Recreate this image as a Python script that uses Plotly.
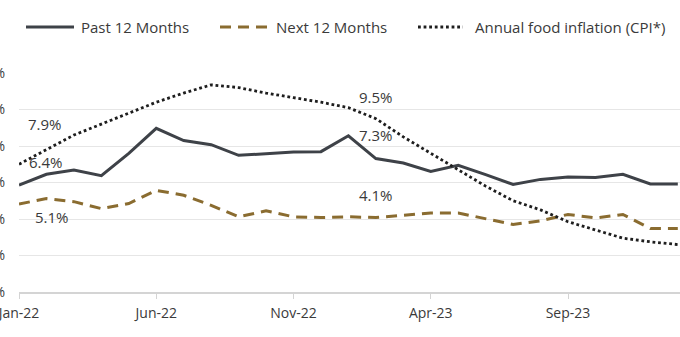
import plotly.graph_objects as go

# ---- data ----
months = ["Jan-22","Feb-22","Mar-22","Apr-22","May-22","Jun-22","Jul-22","Aug-22","Sep-22","Oct-22","Nov-22","Dec-22",
          "Jan-23","Feb-23","Mar-23","Apr-23","May-23","Jun-23","Jul-23","Aug-23","Sep-23","Oct-23","Nov-23","Dec-23","Jan-24"]
past_12 = [5.86, 6.45, 6.68, 6.37, 7.6, 8.97, 8.3, 8.07, 7.49, 7.56, 7.67, 7.69,
           8.56, 7.31, 7.07, 6.61, 6.94, 6.43, 5.89, 6.17, 6.30, 6.28, 6.45, 5.92, 5.92]
next_12 = [4.82, 5.12, 4.95, 4.57, 4.85, 5.57, 5.3, 4.75, 4.12, 4.45, 4.12, 4.08,
           4.12, 4.08, 4.2, 4.33, 4.33, 4.02, 3.70, 3.9, 4.25, 4.06, 4.25, 3.48, 3.48]
food_cpi = [7.0, 7.8, 8.6, 9.2, 9.8, 10.4, 10.9, 11.35, 11.2, 10.9, 10.65, 10.4,
            10.1, 9.5, 8.5, 7.6, 6.7, 5.8, 5.0, 4.5, 3.85, 3.4, 2.95, 2.75, 2.6]
tick_months = ["Jan-22", "Jun-22", "Nov-22", "Apr-23", "Sep-23"]
y_ticks = [0, 2, 4, 6, 8, 10, 12]
series_names = ["Past 12 Months", "Next 12 Months", "Annual food inflation (CPI*)"]
labels = [("7.9%", 0.95, 9.18), ("6.4%", 1.0, 7.10), ("5.1%", 1.22, 4.11),
          ("9.5%", 13.02, 10.67), ("7.3%", 13.02, 8.58), ("4.1%", 13.02, 5.34)]

# ---- styling ----
W, H = 680, 337
ML, MR, MT, MB = 19, 0, 73, 45
FONT = "Open Sans"
C_PAST = "#3e4248"
C_NEXT = "#8a6c30"
C_CPI = "#1e1e1e"
TXT = "#3a3a3a"

x = list(range(len(months)))
fig = go.Figure()
fig.add_trace(go.Scatter(x=x, y=past_12, mode="lines", name=series_names[0],
                         line=dict(color=C_PAST, width=3)))
fig.add_trace(go.Scatter(x=x, y=next_12, mode="lines", name=series_names[1],
                         line=dict(color=C_NEXT, width=3, dash="11px,7px")))
fig.add_trace(go.Scatter(x=x, y=food_cpi, mode="lines", name=series_names[2],
                         line=dict(color=C_CPI, width=2.8, dash="2.8px,2.8px")))

for txt, xi, yv in labels:
    fig.add_annotation(x=xi, y=yv, text=txt, showarrow=False, xref="x", yref="y",
                       font=dict(family=FONT, size=15, color=TXT))

# manual legend (pixel positions converted to paper coords)
pw, ph = W - ML - MR, H - MT - MB
def px(xp):
    return (xp - ML) / pw
def py(yp):
    return (H - MB - yp) / ph

leg_y = 27
legend_items = [(26, 74, 79, dict(color=C_PAST, width=3)),
                (220, 268, 274, dict(color=C_NEXT, width=3, dash="11px,7px")),
                (418, 463, 473, dict(color=C_CPI, width=2.8, dash="2.8px,2.8px"))]
for (x0, x1, xt, ln), name in zip(legend_items, series_names):
    fig.add_shape(type="line", xref="paper", yref="paper", x0=px(x0), x1=px(x1),
                  y0=py(leg_y), y1=py(leg_y), line=ln)
    fig.add_annotation(xref="paper", yref="paper", x=px(xt), y=py(leg_y), text=name,
                       showarrow=False, xanchor="left", yanchor="middle",
                       font=dict(family=FONT, size=15, color=TXT))

fig.update_layout(
    width=W, height=H, margin=dict(l=ML, r=MR, t=MT, b=MB),
    paper_bgcolor="white", plot_bgcolor="white", showlegend=False,
    font=dict(family=FONT, size=14, color=TXT),
)
fig.update_xaxes(range=[0, (W - ML - MR) / 27.45], tickvals=[months.index(m) for m in tick_months],
                 ticktext=tick_months, showgrid=False, showline=True, linecolor="#d4d4d4",
                 linewidth=1.5, ticks="outside", ticklen=5, tickcolor="#d4d4d4",
                 zeroline=False, automargin=False, ticklabeloverflow="allow",
                 ticklabelstandoff=2, tickfont=dict(size=14, color=TXT))
fig.update_yaxes(range=[0, 12], tickvals=y_ticks, ticktext=[f"{v}%" for v in y_ticks],
                 showgrid=True, gridcolor="#e6e6e6", gridwidth=1, zeroline=False,
                 showline=False, automargin=False, ticklabelstandoff=13,
                 ticklabeloverflow="allow", tickfont=dict(size=14, color=TXT))

fig.write_html("out.html")
